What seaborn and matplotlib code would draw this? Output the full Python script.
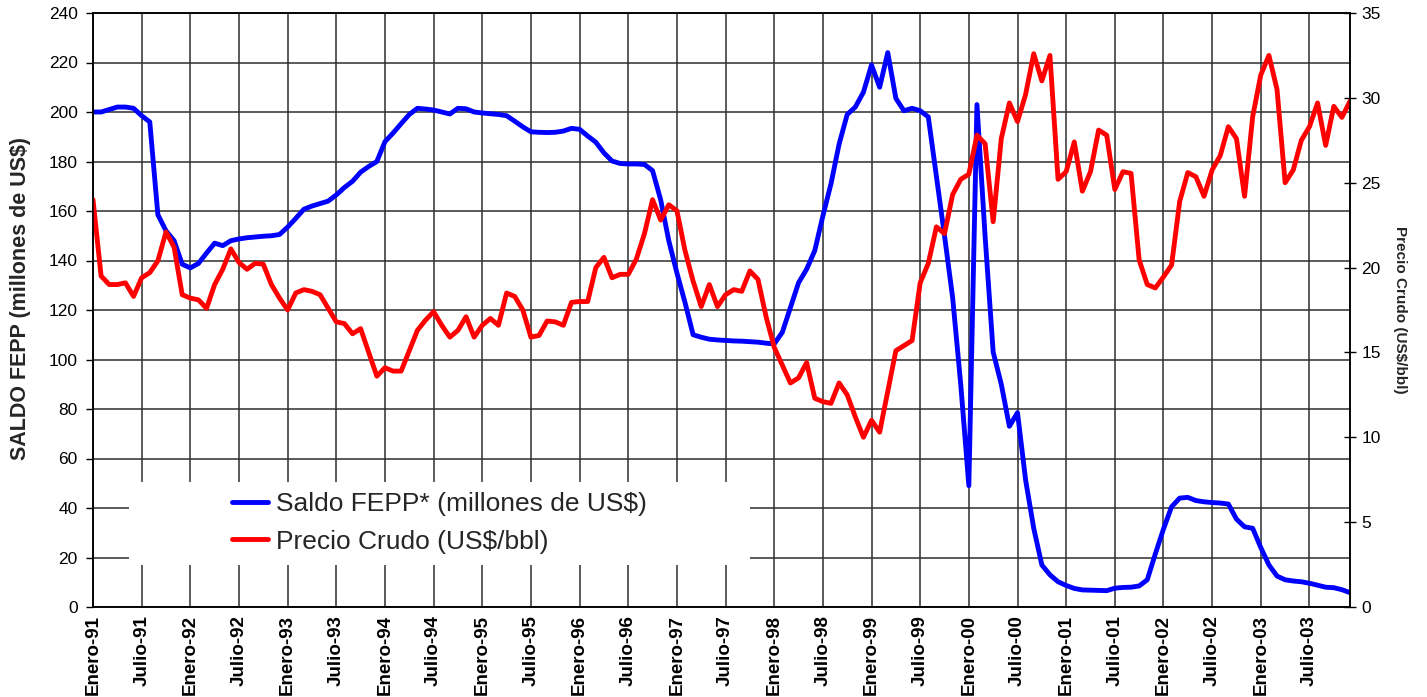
import matplotlib
matplotlib.use("Agg")
import matplotlib.pyplot as plt
from matplotlib.patches import Rectangle
import pandas as pd
import seaborn as sns

# Saldo FEPP (millones de US$), mensual Enero-91 .. Diciembre-03
saldo_fepp = [
    200, 200, 201, 202, 202, 201.5, 198.5, 196, 158.5, 152,
    148, 138.5, 137, 138.8, 143, 147, 146, 148, 148.7, 149.2,
    149.5, 149.8, 150, 150.5, 153.5, 157, 160.7, 162, 163, 164,
    166.5, 169.5, 172, 175.7, 178, 180, 188, 191.5, 195.3, 199,
    201.5, 201.2, 200.8, 200, 199.2, 201.5, 201.3, 200, 199.6, 199.3,
    199, 198.5, 196.3, 194, 192, 191.8, 191.7, 191.8, 192.3, 193.4,
    193, 190.3, 187.8, 183.5, 180.2, 179.2, 179, 179, 178.8, 176.3,
    164.5, 148, 135, 123, 110, 109, 108.2, 107.9, 107.7, 107.5,
    107.4, 107.2, 107, 106.6, 106.3, 111, 121, 131, 136.5, 144,
    158, 171, 187, 199, 202, 208, 219, 210, 224, 205.5,
    200.5, 201.5, 200.5, 198, 174, 150, 125, 90, 49, 203,
    150, 103, 90, 73, 78.5, 51.3, 31.8, 17, 13, 10.2,
    8.7, 7.5, 6.9, 6.8, 6.7, 6.6, 7.6, 7.9, 8, 8.5,
    11, 21.5, 31.5, 40.5, 44, 44.3, 43, 42.5, 42.2, 42,
    41.6, 35.5, 32.4, 31.8, 24, 17, 12.5, 11, 10.5, 10.2,
    9.6, 8.8, 8, 7.8, 7, 5.8,
]

# Precio Crudo (US$/bbl)
precio_crudo = [
    24.0, 19.5, 19.0, 19.0, 19.1, 18.3, 19.4, 19.7, 20.4, 22.1,
    21.2, 18.4, 18.2, 18.1, 17.6, 19.0, 19.9, 21.1, 20.3, 19.9,
    20.25, 20.2, 19.0, 18.2, 17.5, 18.5, 18.7, 18.6, 18.4, 17.6,
    16.8, 16.7, 16.1, 16.4, 15.0, 13.6, 14.1, 13.9, 13.9, 15.1,
    16.3, 16.9, 17.4, 16.6, 15.9, 16.3, 17.1, 15.9, 16.6, 17.0,
    16.6, 18.5, 18.3, 17.5, 15.9, 16.0, 16.85, 16.8, 16.6, 17.95,
    18.0, 18.0, 20.0, 20.6, 19.4, 19.6, 19.6, 20.5, 22.0, 24.0,
    22.8, 23.7, 23.35, 21.0, 19.2, 17.7, 19.0, 17.7, 18.4, 18.7,
    18.6, 19.8, 19.3, 17.1, 15.3, 14.25, 13.2, 13.5, 14.4, 12.3,
    12.1, 12.0, 13.2, 12.5, 11.2, 10.0, 11.0, 10.3, 12.7, 15.1,
    15.4, 15.7, 19.1, 20.25, 22.4, 22.0, 24.3, 25.2, 25.5, 27.8,
    27.3, 22.7, 27.6, 29.7, 28.6, 30.2, 32.6, 31.0, 32.5, 25.2,
    25.65, 27.4, 24.5, 25.65, 28.1, 27.8, 24.6, 25.65, 25.55, 20.45,
    19.0, 18.8, 19.45, 20.15, 23.9, 25.6, 25.35, 24.2, 25.75, 26.6,
    28.3, 27.6, 24.2, 28.9, 31.35, 32.5, 30.5, 25.0, 25.75, 27.5,
    28.3, 29.7, 27.2, 29.5, 28.85, 29.8,
]

tick_labels = [
    "Enero-91", "Julio-91", "Enero-92", "Julio-92", "Enero-93", "Julio-93",
    "Enero-94", "Julio-94", "Enero-95", "Julio-95", "Enero-96", "Julio-96",
    "Enero-97", "Julio-97", "Enero-98", "Julio-98", "Enero-99", "Julio-99",
    "Enero-00", "Julio-00", "Enero-01", "Julio-01", "Enero-02", "Julio-02",
    "Enero-03", "Julio-03",
]

df = pd.DataFrame({
    "mes": range(len(saldo_fepp)),
    "saldo": saldo_fepp,
    "precio": precio_crudo,
})

sns.set_style("white")
plt.rcParams["font.family"] = ["Liberation Sans", "DejaVu Sans"]

fig = plt.figure(figsize=(14.27, 6.97), dpi=100)
ax = fig.add_axes([93 / 1427, 90 / 697, 1257 / 1427, 594 / 697])
ax2 = ax.twinx()

sns.lineplot(data=df, x="mes", y="saldo", ax=ax, color="#0000FF", lw=3.5,
             label="Saldo FEPP* (millones de US$)", legend=False)
sns.lineplot(data=df, x="mes", y="precio", ax=ax2, color="#FF0000", lw=3.5,
             label="Precio Crudo (US$/bbl)", legend=False)

ax.set_xlim(0, len(saldo_fepp) - 1)
ax.set_ylim(0, 240)
ax2.set_ylim(0, 35)
ax.set_yticks(range(0, 241, 20))
ax2.set_yticks(range(0, 36, 5))
ax.set_xticks(range(0, 6 * len(tick_labels), 6))
ax.set_xticklabels(tick_labels, rotation=90, fontweight="bold", fontsize=13.5)

ax.grid(True, color="#2e2e2e", lw=1.1)
ax.set_axisbelow(True)
for a in (ax, ax2):
    for s in a.spines.values():
        s.set_color("black")
        s.set_linewidth(1.1)

ax.tick_params(axis="y", direction="out", length=5, width=1, pad=6, labelsize=12.5, colors="black")
ax.tick_params(axis="x", direction="out", length=5, width=1, pad=0.5, colors="black")
ax2.tick_params(axis="y", direction="inout", length=8.5, width=1, pad=4, labelsize=12.5, colors="black")

ax.set_xlabel("")
ax.set_ylabel("SALDO FEPP (millones de US$)", fontsize=15.5, fontweight="bold")
ax.yaxis.set_label_coords(-62 / 1257, 0.52)
ax2.set_ylabel("Precio Crudo (US$/bbl)", fontsize=11, fontweight="bold", rotation=270, va="bottom")
ax2.yaxis.set_label_coords(1300 / 1257, 0.5)

# white box behind the legend
ax2.add_patch(Rectangle((36 / 1257, 42 / 594), 621 / 1257, 83 / 594,
                        transform=ax2.transAxes, facecolor="white", edgecolor="none", zorder=1.5))
handles = ax.get_lines()[:1] + ax2.get_lines()[:1]
ax2.legend(handles, [h.get_label() for h in handles], loc="center left",
           bbox_to_anchor=(138.7 / 1257, 84 / 594), frameon=False, fontsize=19,
           borderpad=0, borderaxespad=0, handlelength=1.38, handletextpad=0.28,
           labelspacing=0.5)

fig.savefig("out.png", dpi=100)
